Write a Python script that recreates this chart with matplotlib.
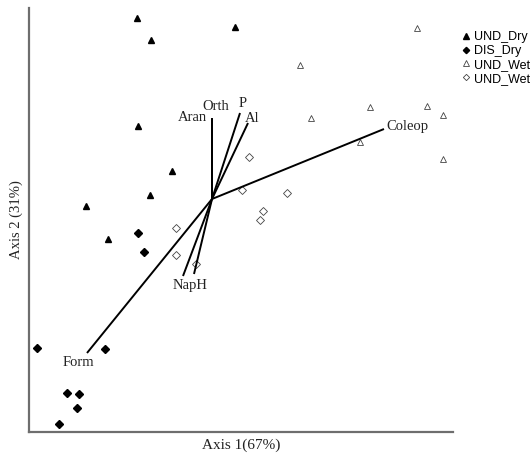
import matplotlib.pyplot as plt
from matplotlib.lines import Line2D

# site scores (axis 1, axis 2)
und_dry_x = [-0.75, -0.61, 0.23, -0.74, -0.40, -0.62, -1.26, -1.04]
und_dry_y = [1.81, 1.59, 1.72, 0.73, 0.28, 0.04, -0.07, -0.40]

dis_dry_x = [-0.74, -0.68, -1.75, -1.07, -1.45, -1.33, -1.35, -1.53]
dis_dry_y = [-0.34, -0.53, -1.49, -1.50, -1.94, -1.95, -2.09, -2.25]

und_wet_x = [2.05, 0.88, 0.99, 1.58, 2.15, 2.31, 1.48, 2.31]
und_wet_y = [1.71, 1.34, 0.81, 0.92, 0.93, 0.84, 0.57, 0.40]

und_wet2_x = [0.37, 0.30, 0.75, 0.51, 0.48, -0.36, -0.36, -0.16]
und_wet2_y = [0.42, 0.09, 0.06, -0.12, -0.21, -0.29, -0.56, -0.65]

# environmental / taxa vectors
vec_names = ['Orth', 'Aran', 'P', 'Al', 'Coleop', 'NapH', '', 'Form']
vec_x = [0.00, 0.00, 0.28, 0.36, 1.72, -0.29, -0.18, -1.25]
vec_y = [0.81, 0.80, 0.86, 0.76, 0.70, -0.77, -0.75, -1.54]

# label offsets in points
label_off = [(3, 8), (-14, 1), (2, 7), (3, 3), (2, 2), (5, -7), (0, 0), (-6, -7)]
label_ha = ['center', 'center', 'center', 'center', 'left', 'center', 'center', 'center']

fig = plt.figure(figsize=(5.3, 4.57), dpi=100)
ax = fig.add_axes([29 / 530, 25 / 457, 424 / 530, 424 / 457])

ax.plot(und_dry_x, und_dry_y, '^', color='black', ms=5, ls='none', label='UND_Dry')
ax.plot(dis_dry_x, dis_dry_y, 'D', color='black', ms=3.6, ls='none', label='DIS_Dry')
ax.plot(und_wet_x, und_wet_y, '^', mfc='white', mec='#444444', mew=0.6, ms=5, ls='none', label='UND_Wet')
ax.plot(und_wet2_x, und_wet2_y, 'D', mfc='white', mec='#444444', mew=0.6, ms=3.8, ls='none', label='UND_Wet')

for name, x, y, off, ha in zip(vec_names, vec_x, vec_y, label_off, label_ha):
    ax.plot([0, x], [0, y], color='black', lw=1.4, solid_capstyle='butt')
    if name:
        ax.annotate(name, (x, y), xytext=off, textcoords='offset points',
                    ha=ha, va='center', fontsize=10.5, family='Liberation Serif',
                    color='#222222')

ax.set_xlim(-1.83, 2.41)
ax.set_ylim(-2.33, 1.91)
ax.set_xticks([])
ax.set_yticks([])
for s in ['top', 'right']:
    ax.spines[s].set_visible(False)
for s in ['left', 'bottom']:
    ax.spines[s].set_color('#6e6e6e')
    ax.spines[s].set_linewidth(1.6)

ax.set_xlabel('Axis 1(67%)', family='Liberation Serif', fontsize=11, labelpad=5, color='#222222')
ax.set_ylabel('Axis 2 (31%)', family='Liberation Serif', fontsize=10.5, labelpad=4, color='#222222')

handles = [
    Line2D([], [], marker='^', color='black', ls='none', ms=4.5),
    Line2D([], [], marker='D', color='black', ls='none', ms=3.2),
    Line2D([], [], marker='^', mfc='white', mec='#444444', mew=0.6, ls='none', ms=4.5),
    Line2D([], [], marker='D', mfc='white', mec='#444444', mew=0.6, ls='none', ms=3.2),
]
fig.legend(handles, ['UND_Dry', 'DIS_Dry', 'UND_Wet', 'UND_Wet'],
           loc='upper left', bbox_to_anchor=(462 / 530, 1 - 31 / 457),
           frameon=False, handlelength=0.6, handletextpad=0.35,
           labelspacing=0.15, borderpad=0, borderaxespad=0,
           prop={'family': 'Liberation Sans', 'size': 9.0})

fig.savefig('out.png', dpi=100)
